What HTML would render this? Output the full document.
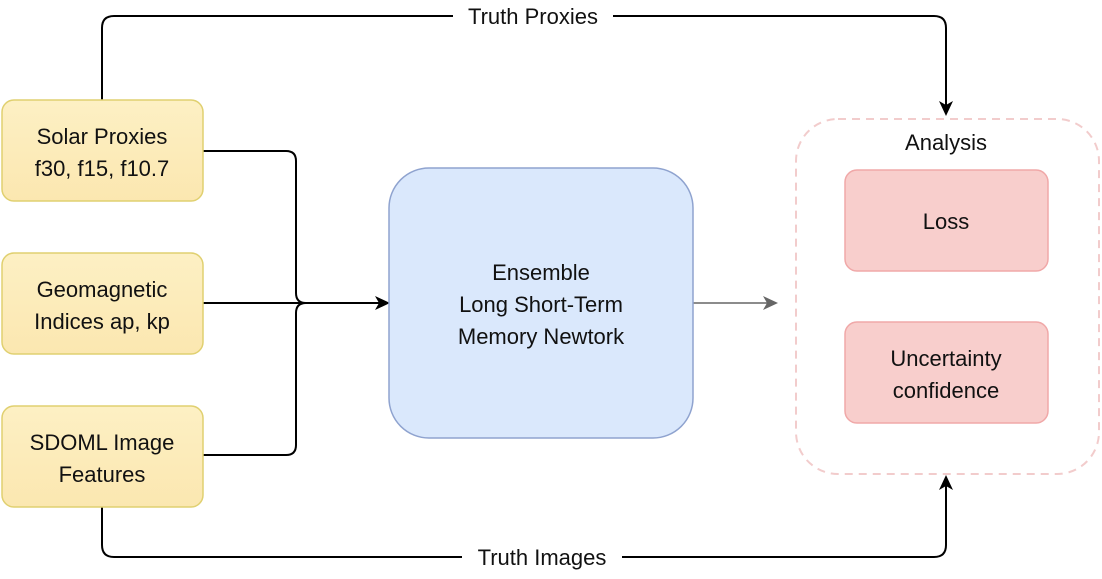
<!DOCTYPE html>
<html><head><style>
body{margin:0;background:#fff;}
svg text{font-family:"Liberation Sans",sans-serif;font-size:22px;fill:#111;text-anchor:middle;}
</style></head><body>
<svg width="1102" height="574" viewBox="0 0 1102 574" xmlns="http://www.w3.org/2000/svg">
<defs>
<linearGradient id="y" x1="0" y1="0" x2="0" y2="1"><stop offset="0" stop-color="#fdf0c4"/><stop offset="1" stop-color="#fbe7b0"/></linearGradient>
</defs>
<g fill="none" stroke="#000" stroke-width="2">
<path d="M102 100 V28 Q102 16 114 16 H934 Q946 16 946 28 V108"/>
<path d="M102 506 V545 Q102 557 114 557 H934 Q946 557 946 545 V484"/>
<path d="M203 151 H286 Q296 151 296 161 V293 Q296 303 306 303"/>
<path d="M203 455 H286 Q296 455 296 445 V313 Q296 303 306 303"/>
<path d="M203 303 H380"/>
</g>
<path d="M946 116 L939 101 L946 105 L953 101 Z" fill="#000"/>
<path d="M946 475 L939 490 L946 486 L953 490 Z" fill="#000"/>
<path d="M390 303 L375 296 L379 303 L375 310 Z" fill="#000"/>
<path d="M693 303 H770" stroke="#666" stroke-width="1.5"/>
<path d="M778 303 L763 296 L767 303 L763 310 Z" fill="#666"/>
<rect x="453" y="4" width="160" height="26" fill="#fff"/>
<text x="533" y="24">Truth Proxies</text>
<rect x="462" y="545" width="160" height="26" fill="#fff"/>
<text x="542" y="565">Truth Images</text>
<rect x="2" y="100" width="201" height="101" rx="12" fill="url(#y)" stroke="#e0d070" stroke-width="1.5"/>
<rect x="2" y="253" width="201" height="101" rx="12" fill="url(#y)" stroke="#e0d070" stroke-width="1.5"/>
<rect x="2" y="406" width="201" height="101" rx="12" fill="url(#y)" stroke="#e0d070" stroke-width="1.5"/>
<text x="102" y="144">Solar Proxies</text><text x="102" y="176">f30, f15, f10.7</text>
<text x="102" y="297">Geomagnetic</text><text x="102" y="329">Indices ap, kp</text>
<text x="102" y="450">SDOML Image</text><text x="102" y="482">Features</text>
<rect x="389" y="168" width="304" height="270" rx="40" fill="#dae8fc" stroke="#8fa3cf" stroke-width="1.5"/>
<text x="541" y="280">Ensemble</text>
<text x="541" y="312">Long Short-Term</text>
<text x="541" y="344">Memory Newtork</text>
<rect x="796" y="119" width="303" height="355" rx="42" fill="none" stroke="#f2cccc" stroke-width="2" stroke-dasharray="8 6"/>
<text x="946" y="150">Analysis</text>
<rect x="845" y="170" width="203" height="101" rx="12" fill="#f8cecc" stroke="#f0a8a8" stroke-width="1.5"/>
<rect x="845" y="322" width="203" height="101" rx="12" fill="#f8cecc" stroke="#f0a8a8" stroke-width="1.5"/>
<text x="946" y="229">Loss</text>
<text x="946" y="366">Uncertainty</text><text x="946" y="398">confidence</text>
</svg>
</body></html>
